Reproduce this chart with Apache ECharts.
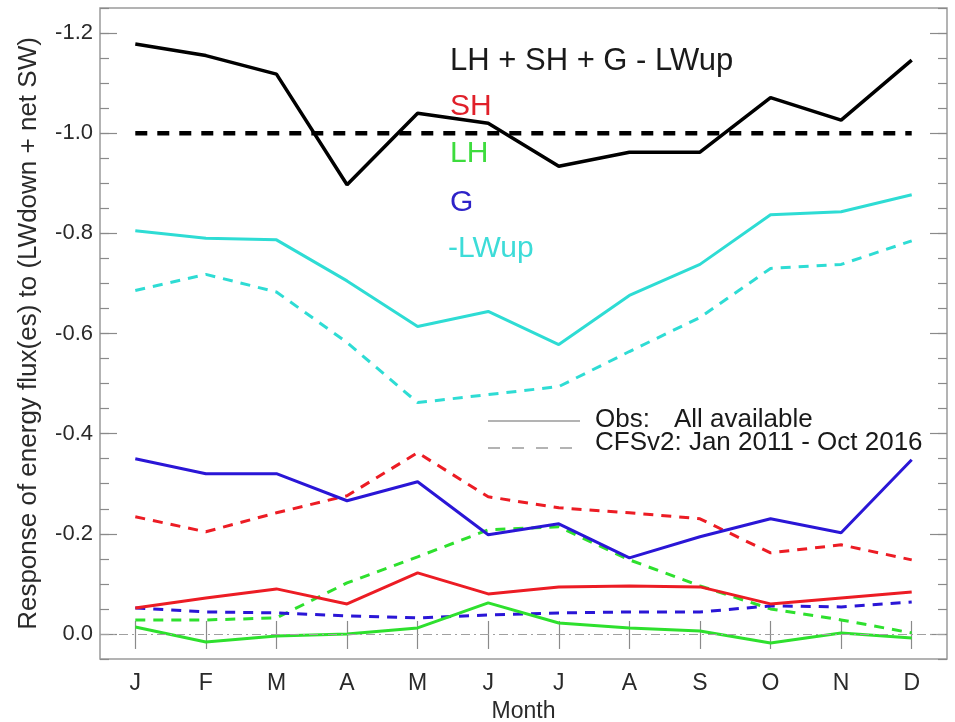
<!DOCTYPE html>
<html>
<head>
<meta charset="utf-8">
<script src="https://cdn.jsdelivr.net/npm/echarts@6/dist/echarts.min.js"></script>
<style>
html,body{margin:0;padding:0;background:#fff;overflow:hidden;}
#chart{width:955px;height:722px;}
</style>
</head>
<body>
<div id="chart"></div>
<script>
const months = ['J','F','M','A','M','J','J','A','S','O','N','D'];
const yMajorTicks = [-1.2,-1.0,-0.8,-0.6,-0.4,-0.2,0.0];

const totalObs  = [-1.178,-1.155,-1.118,-0.897,-1.040,-1.020,-0.934,-0.962,-0.962,-1.071,-1.026,-1.146];
const totalRef  = [-1.0,-1.0,-1.0,-1.0,-1.0,-1.0,-1.0,-1.0,-1.0,-1.0,-1.0,-1.0];
const lwupObs   = [-0.805,-0.790,-0.787,-0.705,-0.614,-0.644,-0.578,-0.676,-0.738,-0.837,-0.843,-0.877];
const lwupCfs   = [-0.686,-0.718,-0.683,-0.582,-0.462,-0.478,-0.494,-0.564,-0.632,-0.730,-0.738,-0.785];
const gObs      = [-0.350,-0.320,-0.320,-0.266,-0.304,-0.198,-0.220,-0.152,-0.194,-0.230,-0.202,-0.348];
const gCfs      = [-0.052,-0.044,-0.042,-0.036,-0.032,-0.038,-0.042,-0.044,-0.044,-0.056,-0.054,-0.064];
const shObs     = [-0.052,-0.072,-0.090,-0.060,-0.122,-0.080,-0.094,-0.096,-0.094,-0.060,-0.072,-0.084];
const shCfs     = [-0.234,-0.204,-0.242,-0.276,-0.362,-0.274,-0.252,-0.242,-0.230,-0.162,-0.178,-0.148];
const lhObs     = [-0.014,0.016,0.004,0.000,-0.012,-0.062,-0.022,-0.012,-0.006,0.018,-0.002,0.008];
const lhCfs     = [-0.028,-0.028,-0.032,-0.102,-0.154,-0.208,-0.214,-0.148,-0.096,-0.050,-0.028,-0.002];

const FONT = '"Liberation Sans", Arial, Helvetica, sans-serif';
const C_RED = '#ec1c24', C_GREEN = '#2ee02e', C_BLUE = '#2a16d6', C_CYAN = '#2edcd4', C_BLACK = '#000000';
const tickColor = '#8a8a8a';

function ln(name, data, color, dashed, width, z) {
  return {
    name: name, type: 'line', data: data, symbol: 'none', z: z || 2,
    lineStyle: { color: color, width: width || 3, type: dashed ? [10, 8] : 'solid' },
    itemStyle: { color: color }, animation: false
  };
}

const chart = echarts.init(document.getElementById('chart'), null, { renderer: 'canvas', width: 955, height: 722 });

const yBase = { type: 'value', inverse: true, min: -1.25, max: 0.05, interval: 0.05,
  splitLine: { show: false }, axisLine: { show: false } };

const option = {
  backgroundColor: '#fff',
  animation: false,
  grid: { left: 100, width: 847, top: 8, height: 651, containLabel: false, outerBoundsMode: 'none',
    show: true, borderColor: '#9a9a9a', borderWidth: 1.5, backgroundColor: 'transparent' },
  xAxis: [
    { type: 'category', data: months, boundaryGap: true, position: 'bottom',
      axisLine: { show: false },
      axisTick: { show: true, inside: true, alignWithLabel: true, length: 13, lineStyle: { color: tickColor, width: 1.2 } },
      axisLabel: { fontFamily: FONT, fontSize: 23, color: '#2a2a2a', margin: 13 },
      name: 'Month', nameLocation: 'middle', nameGap: 41,
      nameTextStyle: { fontFamily: FONT, fontSize: 23, color: '#2a2a2a' } },
    { type: 'category', data: months, boundaryGap: true, position: 'top',
      axisLine: { show: false },
      axisTick: { show: true, inside: true, alignWithLabel: true, length: 15, lineStyle: { color: tickColor, width: 1.2 } },
      axisLabel: { show: false } }
  ],
  yAxis: [
    Object.assign({}, yBase, { position: 'left',
      axisTick: { show: true, inside: true, length: 9, lineStyle: { color: tickColor, width: 1.2 } },
      axisLabel: { show: true, customValues: yMajorTicks, fontFamily: FONT, fontSize: 22, color: '#2a2a2a', margin: 7,
        formatter: function (v) { return Math.abs(v) < 1e-9 ? '0.0' : v.toFixed(1); } },
      name: 'Response of energy flux(es) to (LWdown + net SW)', nameLocation: 'middle', nameGap: 58, nameRotate: 90,
      nameTextStyle: { fontFamily: FONT, fontSize: 26, color: '#2a2a2a' } }),
    Object.assign({}, yBase, { position: 'left',
      axisTick: { show: true, inside: true, length: 17, customValues: yMajorTicks, lineStyle: { color: tickColor, width: 1.2 } },
      axisLabel: { show: false } }),
    Object.assign({}, yBase, { position: 'right',
      axisTick: { show: true, inside: true, length: 9, lineStyle: { color: tickColor, width: 1.2 } },
      axisLabel: { show: false } }),
    Object.assign({}, yBase, { position: 'right',
      axisTick: { show: true, inside: true, length: 17, customValues: yMajorTicks, lineStyle: { color: tickColor, width: 1.2 } },
      axisLabel: { show: false } })
  ],
  series: [
    Object.assign(ln('zero', [], '#999', false, 1, 1), {
      markLine: { silent: true, symbol: 'none', label: { show: false },
        lineStyle: { color: '#a0a0a0', width: 1.2, type: [9, 4, 2, 4] },
        data: [{ yAxis: 0 }] } }),
    ln('LH CFSv2', lhCfs, C_GREEN, true, 3),
    ln('G CFSv2', gCfs, C_BLUE, true, 3),
    ln('SH CFSv2', shCfs, C_RED, true, 3),
    ln('-LWup CFSv2', lwupCfs, C_CYAN, true, 3),
    ln('LH Obs', lhObs, C_GREEN, false, 3),
    ln('SH Obs', shObs, C_RED, false, 3),
    ln('G Obs', gObs, C_BLUE, false, 3),
    ln('-LWup Obs', lwupObs, C_CYAN, false, 3),
    Object.assign(ln('Ref', totalRef, C_BLACK, true, 4, 3), { lineStyle: { color: C_BLACK, width: 4.5, type: [12, 10] } }),
    ln('Total Obs', totalObs, C_BLACK, false, 3.5, 4)
  ],
  graphic: [
    { type: 'text', left: 450, top: 46, z: 10, style: { text: 'LH + SH + G - LWup', font: '31px ' + FONT, fill: '#1a1a1a' } },
    { type: 'text', left: 450, top: 92, z: 10, style: { text: 'SH', font: '30px ' + FONT, fill: '#e0202a' } },
    { type: 'text', left: 450, top: 139, z: 10, style: { text: 'LH', font: '30px ' + FONT, fill: '#3ddc3d' } },
    { type: 'text', left: 450, top: 188, z: 10, style: { text: 'G', font: '30px ' + FONT, fill: '#2d22c8' } },
    { type: 'text', left: 448, top: 234, z: 10, style: { text: '-LWup', font: '30px ' + FONT, fill: '#3ddcd8' } },
    { type: 'line', z: 10, shape: { x1: 488, y1: 421, x2: 580, y2: 421 }, style: { stroke: '#9a9a9a', lineWidth: 1.5 } },
    { type: 'line', z: 10, shape: { x1: 488, y1: 448, x2: 580, y2: 448 }, style: { stroke: '#9a9a9a', lineWidth: 1.5, lineDash: [12, 12] } },
    { type: 'text', left: 595, top: 407, z: 10, style: { text: 'Obs:', font: '26px ' + FONT, fill: '#1a1a1a' } },
    { type: 'text', left: 674, top: 407, z: 10, style: { text: 'All available', font: '26px ' + FONT, fill: '#1a1a1a' } },
    { type: 'text', left: 595, top: 430, z: 10, style: { text: 'CFSv2: Jan 2011 - Oct 2016', font: '26px ' + FONT, fill: '#1a1a1a' } }
  ]
};
chart.setOption(option);
</script>
</body>
</html>
